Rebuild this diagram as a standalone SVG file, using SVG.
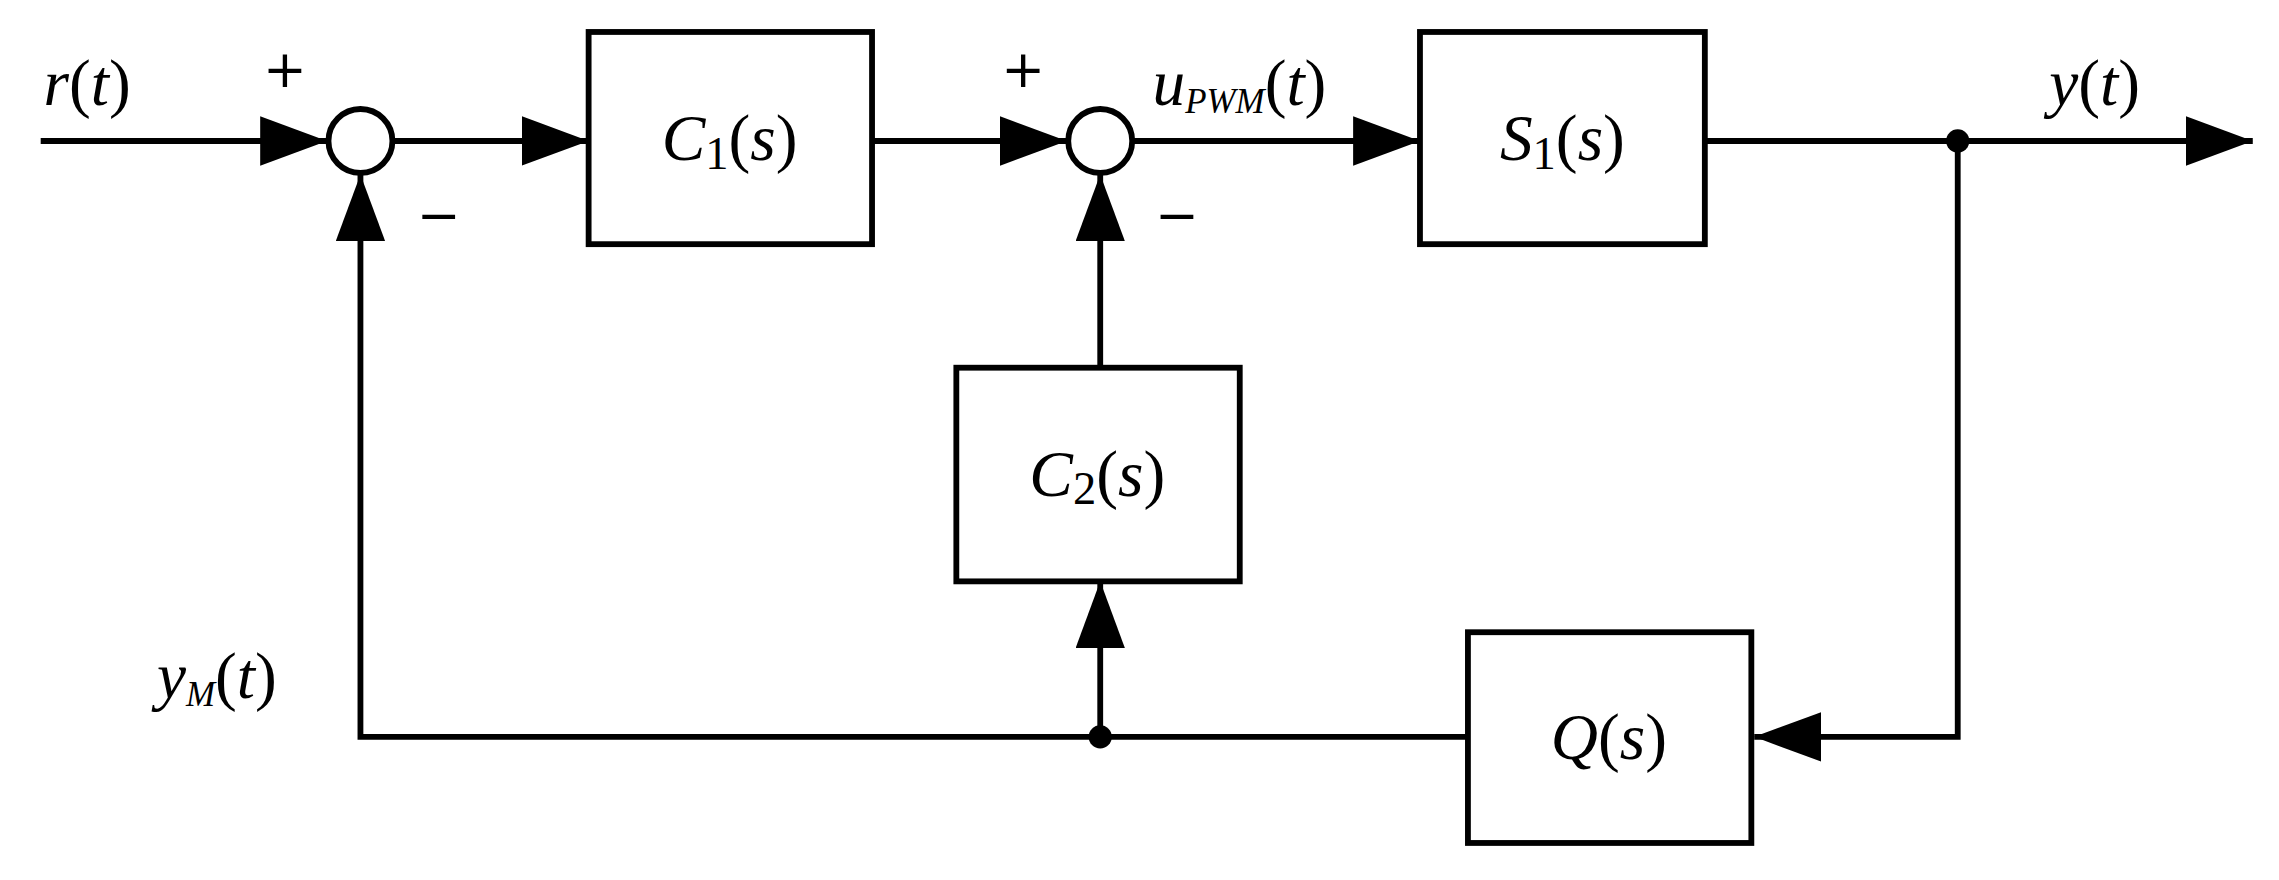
<svg xmlns="http://www.w3.org/2000/svg" width="2279" height="880" viewBox="0 0 2279 880">
<defs>
<marker id="ar" viewBox="0 0 46 34" refX="46" refY="17" markerWidth="46" markerHeight="34" markerUnits="userSpaceOnUse" orient="auto"><path d="M0,0 L46,17 L0,34 Z" fill="#000"/></marker>
</defs>
<style>
.b{fill:#fff;stroke:#000;stroke-width:4}
.l{fill:none;stroke:#000;stroke-width:4}
.t{font-family:"Liberation Serif",serif;font-style:italic;font-size:45px}
.u{font-family:"Liberation Serif",serif;font-style:normal;font-size:45px}
.d{font-family:"Liberation Serif",serif;font-style:normal;font-size:32px}
.s{font-family:"Liberation Serif",serif;font-style:italic;font-size:24px}
.p{font-family:"DejaVu Sans",sans-serif;font-size:36px}
</style>
<rect width="2279" height="880" fill="#fff"/>
<g transform="scale(1.4534)">
<g id="connectors">
<path class="l" d="M28,97 H225" marker-end="url(#ar)"/>
<path class="l" d="M270,97 H405" marker-end="url(#ar)"/>
<path class="l" d="M600,97 H734" marker-end="url(#ar)"/>
<path class="l" d="M779,97 H977" marker-end="url(#ar)"/>
<path class="l" d="M1173,97 H1550" marker-end="url(#ar)"/>
<path class="l" d="M1347,97 V507 H1207" marker-end="url(#ar)"/>
<path class="l" d="M1010,507 H248 V120" marker-end="url(#ar)"/>
<path class="l" d="M757,507 V400" marker-end="url(#ar)"/>
<path class="l" d="M757,253 V120" marker-end="url(#ar)"/>
<circle cx="1347" cy="97" r="8"/>
<circle cx="757" cy="507" r="8"/>
</g>
<g id="sum1"><circle class="b" cx="248" cy="97" r="22"/></g>
<g id="sum2"><circle class="b" cx="757" cy="97" r="22"/></g>
<g id="C1"><rect class="b" x="405" y="22" width="195" height="146"/><text class="t" x="502" y="110" text-anchor="middle">C<tspan class="d" dy="6">1</tspan><tspan class="u" dy="-6">(</tspan>s<tspan class="u">)</tspan></text></g>
<g id="S1"><rect class="b" x="977" y="22" width="196" height="146"/><text class="t" x="1075" y="110" text-anchor="middle">S<tspan class="d" dy="6">1</tspan><tspan class="u" dy="-6">(</tspan>s<tspan class="u">)</tspan></text></g>
<g id="C2"><rect class="b" x="658" y="253" width="195" height="147"/><text class="t" x="755" y="341" text-anchor="middle">C<tspan class="d" dy="6">2</tspan><tspan class="u" dy="-6">(</tspan>s<tspan class="u">)</tspan></text></g>
<g id="Q"><rect class="b" x="1010" y="435" width="195" height="145"/><text class="t" x="1107" y="522" text-anchor="middle">Q<tspan class="u">(</tspan>s<tspan class="u">)</tspan></text></g>
<g id="labels">
<text class="t" x="30" y="72">r<tspan class="u">(</tspan>t<tspan class="u">)</tspan></text>
<text class="p" x="196" y="60" text-anchor="middle">+</text>
<text class="p" x="302" y="160" text-anchor="middle">−</text>
<text class="p" x="704" y="60" text-anchor="middle">+</text>
<text class="p" x="810" y="160" text-anchor="middle">−</text>
<text class="t" x="793" y="72">u<tspan class="s" dy="6">PWM</tspan><tspan class="u" dy="-6">(</tspan>t<tspan class="u">)</tspan></text>
<text class="t" x="1410" y="72">y<tspan class="u">(</tspan>t<tspan class="u">)</tspan></text>
<text class="t" x="108" y="480">y<tspan class="s" dy="6">M</tspan><tspan class="u" dy="-6">(</tspan>t<tspan class="u">)</tspan></text>
</g>
</g>
</svg>
